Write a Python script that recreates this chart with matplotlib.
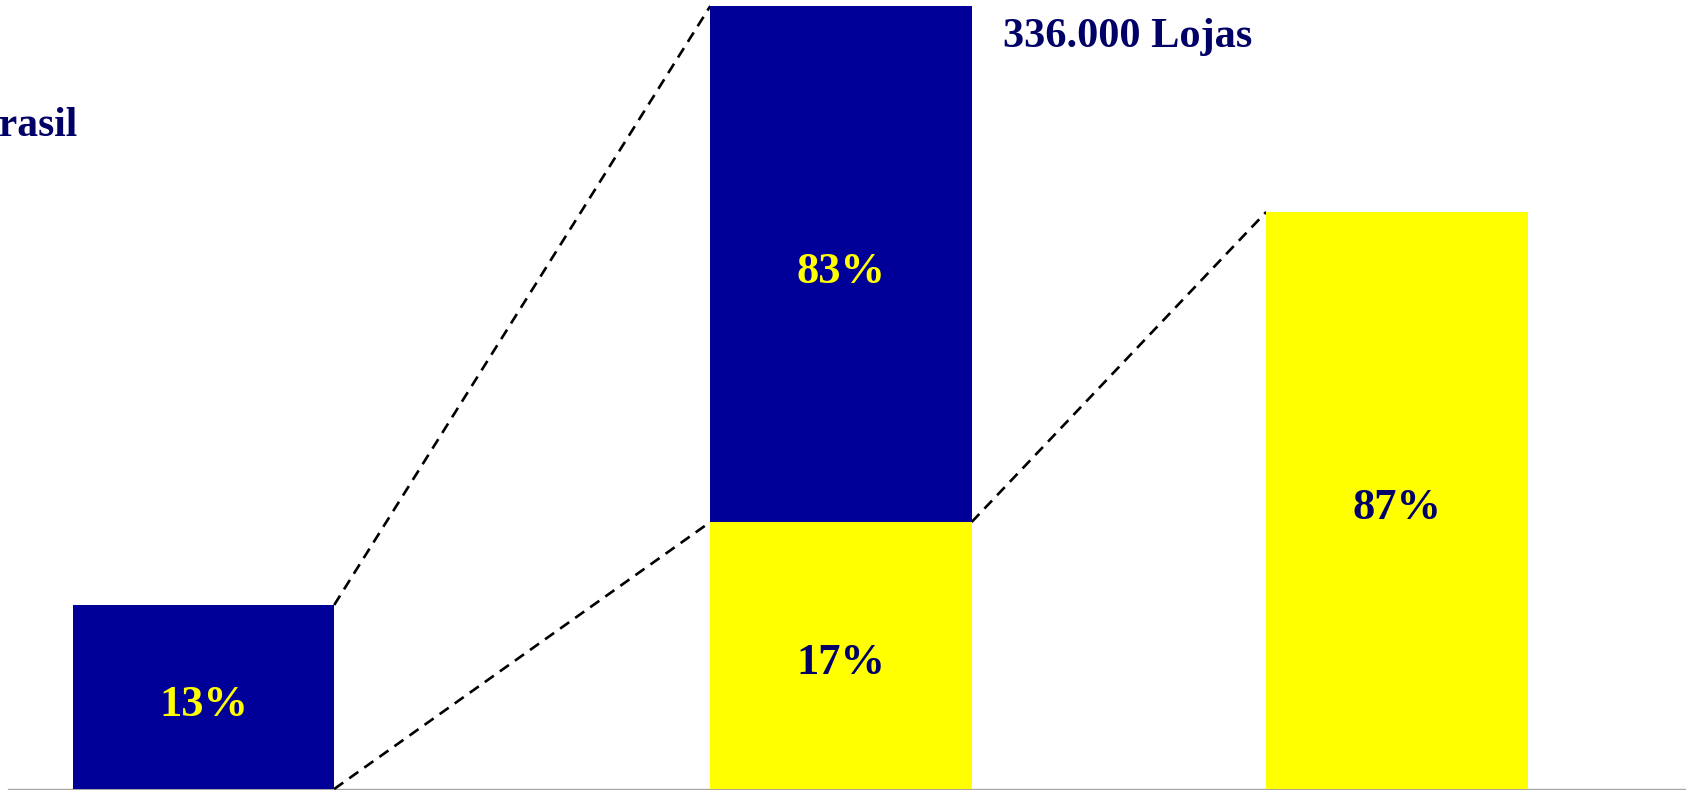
import matplotlib
matplotlib.use("Agg")
import matplotlib.pyplot as plt
from matplotlib.transforms import offset_copy

# Share labels shown inside each block
share_lojas = ["13%"]                 # first block
share_split = ["17%", "83%"]          # 336.000 stores: lower (yellow) / upper (blue)
share_final = ["87%"]                 # last block

# Drawn size of each block (schematic scale, 336.000-store column = 100)
size_first = 23.5
size_split = [34.1, 65.9]
size_final = 73.7

total_label = "336.000 Lojas"
left_label = "Brasil"

BLUE = "#000099"
YELLOW = "#ffff00"
NAVY = "#000066"
FONT = "Liberation Serif"

# horizontal layout of the three columns
pos = [0.0, 1.0, 1.872]
width = 0.41

fig = plt.figure(figsize=(16.86, 7.90), dpi=100)
ax = fig.add_axes([0, 0, 1, 1])
ax.set_xlim(-0.3192, 2.3255)
ax.set_ylim(-0.128, 100.77)
ax.axis("off")

# baseline
ax.axhline(0, xmin=0.005, xmax=1, color="#a6a6a6", lw=1.0, zorder=1)

# columns
ax.bar(pos[0], size_first, width, color=BLUE, zorder=2)
ax.bar(pos[1], size_split[0], width, color=YELLOW, zorder=2)
ax.bar(pos[1], size_split[1], width, bottom=size_split[0], color=BLUE, zorder=2)
ax.bar(pos[2], size_final, width, color=YELLOW, zorder=2)

# labels sit a touch below the geometric centre of each block
tr = offset_copy(ax.transData, fig=fig, x=0, y=-5.5, units="points")
lbl = dict(ha="center", va="center", fontsize=32, fontweight="bold", family=FONT,
           zorder=3, transform=tr)
ax.text(pos[0], size_first / 2, share_lojas[0], color=YELLOW, **lbl)
ax.text(pos[1], size_split[0] / 2, share_split[0], color=NAVY, **lbl)
ax.text(pos[1], size_split[0] + size_split[1] / 2, share_split[1], color=YELLOW, **lbl)
ax.text(pos[2], size_final / 2, share_final[0], color=NAVY, **lbl)

# dashed connectors between columns
dash = dict(color="black", lw=1.9, ls=(0, (4.2, 2.8)), zorder=1)
top_split = size_split[0] + size_split[1]
ax.plot([pos[0] + width / 2, pos[1] - width / 2], [size_first, top_split], **dash)
ax.plot([pos[0] + width / 2, pos[1] - width / 2], [0, size_split[0]], **dash)
ax.plot([pos[1] + width / 2, pos[2] - width / 2], [size_split[0], size_final], **dash)

fig.text(1003 / 1686, 1 - 47 / 790, total_label, ha="left", va="baseline",
         fontsize=30.5, fontweight="bold", family=FONT, color=NAVY)
fig.text(77 / 1686, 1 - 136 / 790, left_label, ha="right", va="baseline",
         fontsize=30, fontweight="bold", family=FONT, color=NAVY)

fig.savefig("out.png", dpi=100)
